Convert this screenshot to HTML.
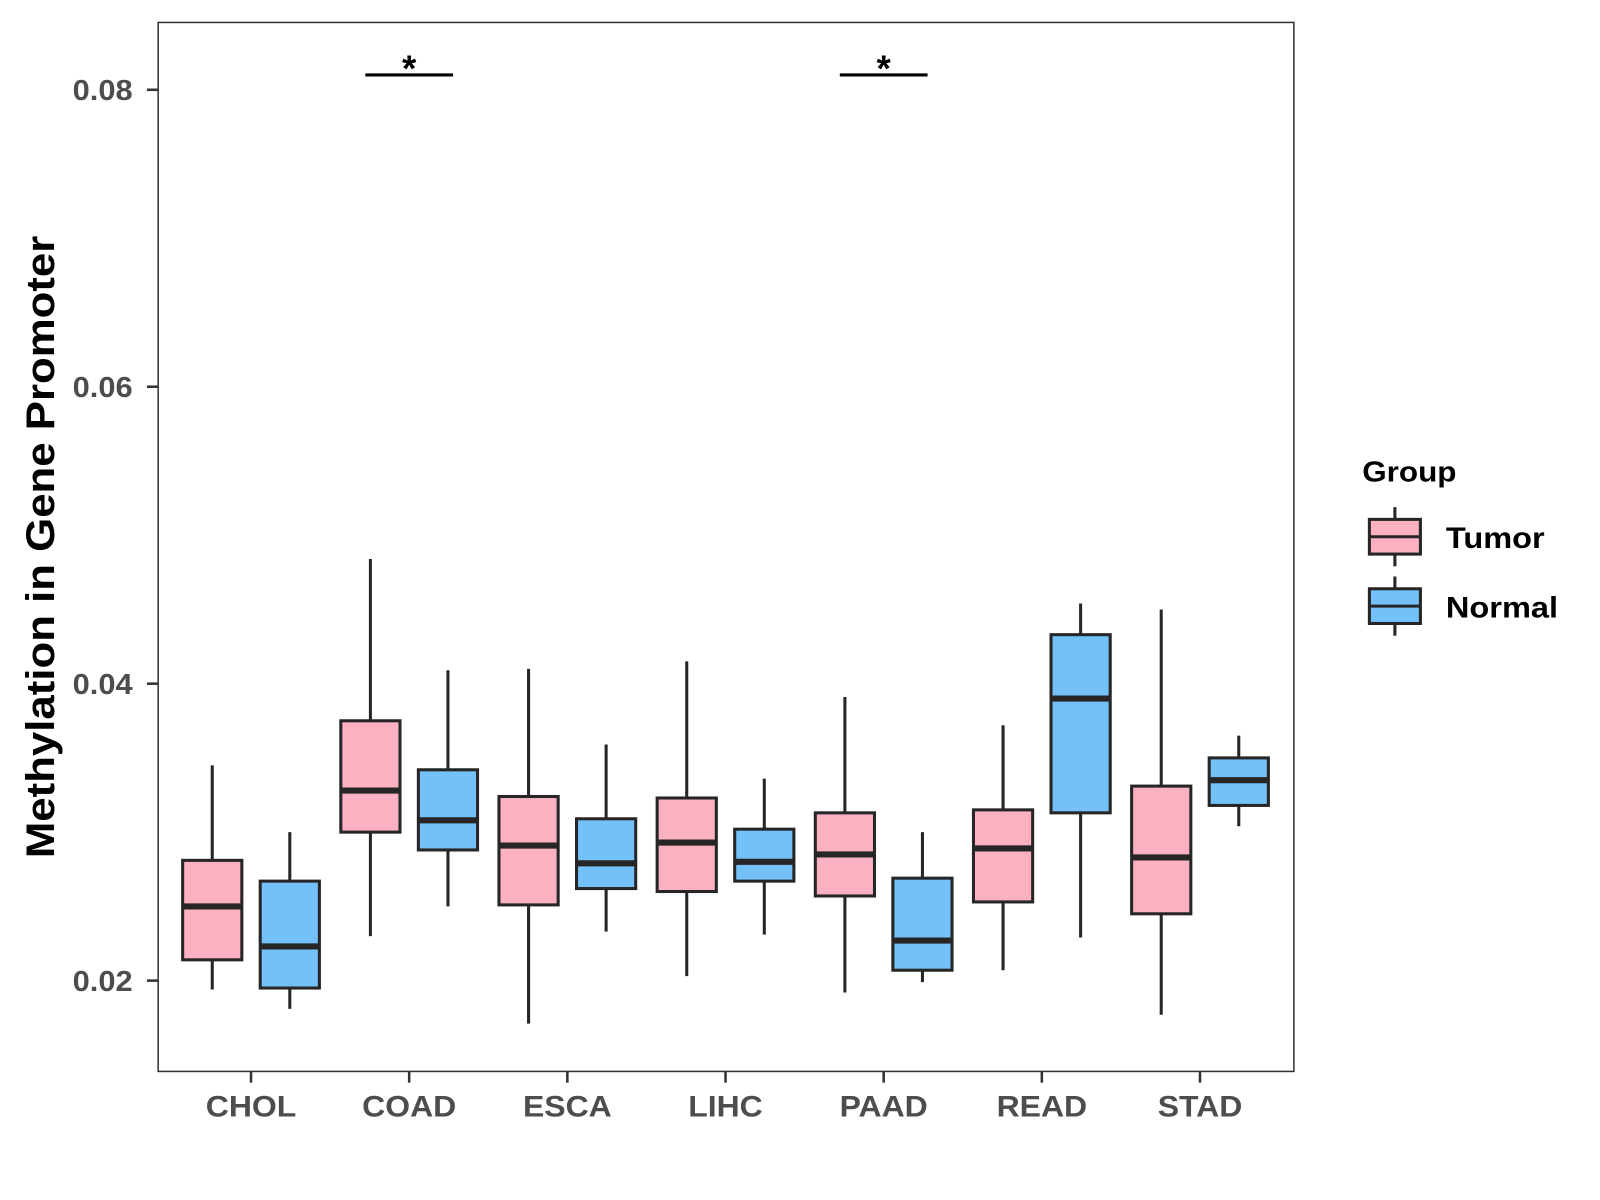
<!DOCTYPE html>
<html><head><meta charset="utf-8"><style>
html,body{margin:0;padding:0;background:#fff;}
svg{display:block;}
text{font-family:"Liberation Sans",Arial,sans-serif;font-weight:bold;}
</style></head><body>
<svg id="chart" width="1600" height="1200" viewBox="0 0 1568 1176" xmlns="http://www.w3.org/2000/svg"></svg>
<script>
const categories = ["CHOL","COAD","ESCA","LIHC","PAAD","READ","STAD"];
// [whisker low, Q1, median, Q3, whisker high]
const tumorStats = [
  [0.0194,0.0214,0.0250,0.0281,0.0345],
  [0.0230,0.0300,0.0328,0.0375,0.0484],
  [0.0171,0.0251,0.0291,0.0324,0.0410],
  [0.0203,0.0260,0.0293,0.0323,0.0415],
  [0.0192,0.0257,0.0285,0.0313,0.0391],
  [0.0207,0.0253,0.0289,0.0315,0.0372],
  [0.0177,0.0245,0.0283,0.0331,0.0450]
];
const normalStats = [
  [0.0181,0.0195,0.0223,0.0267,0.0300],
  [0.0250,0.0288,0.0308,0.0342,0.0409],
  [0.0233,0.0262,0.0279,0.0309,0.0359],
  [0.0231,0.0267,0.0280,0.0302,0.0336],
  [0.0199,0.0207,0.0227,0.0269,0.0300],
  [0.0229,0.0313,0.0390,0.0433,0.0454],
  [0.0304,0.0318,0.0335,0.0350,0.0365]
];
const yTicks = [0.02,0.04,0.06,0.08];
const yTickLabels = ["0.02","0.04","0.06","0.08"];
const sigCategories = ["COAD","PAAD"];
const sigLevel = 0.0810;

const svg = document.getElementById('chart');
const NS = "http://www.w3.org/2000/svg";
const P = {l:155,r:1268,t:22,b:1050};
const yScale = v => 88 + (0.08 - v) * 14550;
const xScale = i => 246 + i * 155;
const half = 29, off = 38;

function mk(tag, attrs, parent){
  const e = document.createElementNS(NS, tag);
  for (const k in attrs) e.setAttribute(k, attrs[k]);
  (parent||svg).appendChild(e);
  return e;
}
function widen(t, f){
  const w = t.getComputedTextLength();
  t.setAttribute('textLength', (w*f).toFixed(1));
  t.setAttribute('lengthAdjust', 'spacingAndGlyphs');
}

mk('rect',{x:P.l,y:P.t,width:P.r-P.l,height:P.b-P.t,fill:'#fff',stroke:'#333','stroke-width':1.5});

yTicks.forEach((v,i)=>{
  const y = yScale(v);
  mk('line',{x1:P.l-11,x2:P.l,y1:y,y2:y,stroke:'#333','stroke-width':2.5});
  const t = mk('text',{x:130,y:y+10,'text-anchor':'end','font-size':28,fill:'#4d4d4d'});
  t.textContent = yTickLabels[i];
  
  
  widen(t, 1.08);
});

categories.forEach((c,i)=>{
  const x = xScale(i);
  mk('line',{x1:x,x2:x,y1:P.b,y2:P.b+11,stroke:'#333','stroke-width':2.5});
  const t = mk('text',{x:x,y:P.b+44,'text-anchor':'middle','font-size':29,fill:'#4d4d4d'});
  t.textContent = c;
  
  
  widen(t, 1.08);
});

function drawBox(cx, s, fill, name){
  const g = mk('g',{});
  
  
  mk('line',{x1:cx,x2:cx,y1:yScale(s[4]),y2:yScale(s[3]),stroke:'#262626','stroke-width':3},g);
  mk('line',{x1:cx,x2:cx,y1:yScale(s[1]),y2:yScale(s[0]),stroke:'#262626','stroke-width':3},g);
  mk('rect',{x:cx-half,y:yScale(s[3]),width:half*2,height:yScale(s[1])-yScale(s[3]),fill:fill,stroke:'#262626','stroke-width':3},g);
  mk('line',{x1:cx-half,x2:cx+half,y1:yScale(s[2]),y2:yScale(s[2]),stroke:'#262626','stroke-width':6},g);
}
categories.forEach((c,i)=>{
  drawBox(xScale(i)-off, tumorStats[i], '#fbb1c1', 'box-tumor-'+c.toLowerCase());
  drawBox(xScale(i)+off, normalStats[i], '#74c1f9', 'box-normal-'+c.toLowerCase());
});

sigCategories.forEach(c=>{
  const i = categories.indexOf(c);
  const y = yScale(sigLevel);
  const g = mk('g',{});
  
  
  mk('line',{x1:xScale(i)-43,x2:xScale(i)+43,y1:y,y2:y,stroke:'#000','stroke-width':3},g);
  const t = mk('text',{x:xScale(i),y:y+6,'text-anchor':'middle','font-size':36,fill:'#000'},g);
  t.textContent = '*';
});

const yt = mk('text',{x:0,y:0,transform:'translate(53,536) rotate(-90)','text-anchor':'middle','font-size':39,fill:'#000'});
yt.textContent = 'Methylation in Gene Promoter';


widen(yt, 1.1);

const lg = mk('g',{});


const lt = mk('text',{x:1335,y:472,'font-size':28,fill:'#000'},lg);
lt.textContent = 'Group';
widen(lt, 1.1);
[['Tumor','#fbb1c1',526],['Normal','#74c1f9',594]].forEach(([lab,col,cy])=>{
  const e = mk('g',{},lg);
  
  
  mk('line',{x1:1367,x2:1367,y1:cy-29,y2:cy+29,stroke:'#262626','stroke-width':3},e);
  mk('rect',{x:1342,y:cy-17,width:50,height:34,fill:col,stroke:'#262626','stroke-width':3},e);
  mk('line',{x1:1342,x2:1392,y1:cy,y2:cy,stroke:'#262626','stroke-width':3},e);
  const t = mk('text',{x:1417,y:cy+11,'font-size':29,fill:'#000'},e);
  t.textContent = lab;
  widen(t, 1.1);
});
</script>
</body></html>
